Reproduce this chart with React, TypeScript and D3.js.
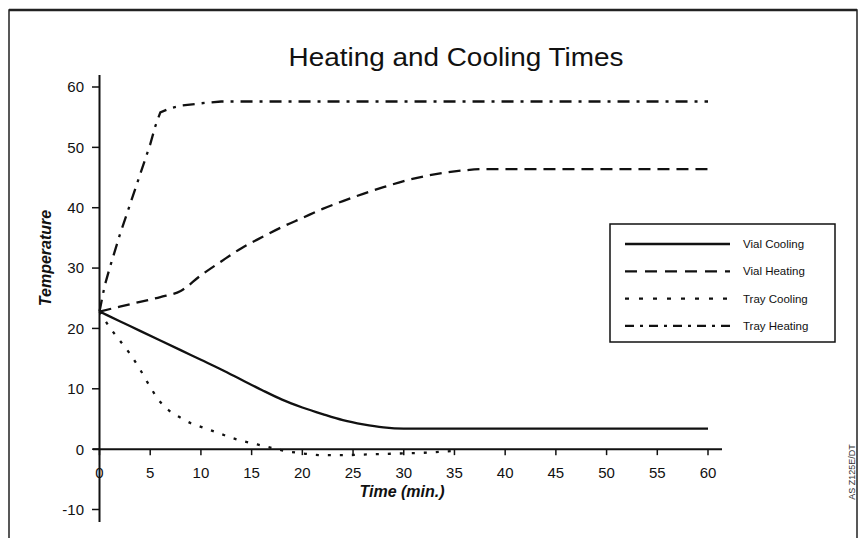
import React from "react";
import * as d3 from "d3";

// readings taken off the scanned chart
const vialCoolingTime = [0, 2, 4, 6, 8, 10, 12, 14, 16, 18, 20, 22, 24, 26, 28, 30, 35, 40, 45, 50, 55, 60];
const vialCoolingTemp = [22.8, 21.2, 19.6, 18, 16.4, 14.8, 13.2, 11.5, 9.8, 8.2, 6.9, 5.8, 4.8, 4.1, 3.6, 3.4, 3.4, 3.4, 3.4, 3.4, 3.4, 3.4];

const vialHeatingTime = [0, 2, 4, 6, 8, 10, 12, 14, 16, 18, 20, 22, 24, 26, 28, 30, 32, 34, 36, 38, 40, 45, 50, 55, 60];
const vialHeatingTemp = [22.8, 23.6, 24.4, 25.2, 26.2, 28.8, 31.1, 33.3, 35.1, 36.8, 38.3, 39.8, 41.1, 42.3, 43.4, 44.4, 45.2, 45.8, 46.2, 46.4, 46.4, 46.4, 46.4, 46.4, 46.4];

const trayCoolingTime = [0, 1, 2, 3, 4, 5, 6, 7, 8, 9, 10, 11, 12, 13, 14, 15, 16, 17, 18, 20, 22, 24, 26, 28, 30, 32, 34, 35.5];
const trayCoolingTemp = [22.8, 20.2, 18, 15.8, 13.2, 10.3, 7.8, 6.2, 5.2, 4.3, 3.7, 3.1, 2.5, 1.9, 1.4, 1, 0.6, 0.2, -0.2, -0.7, -1, -1, -0.9, -0.8, -0.7, -0.6, -0.4, -0.2];

const trayHeatingTime = [0, 0.5, 1, 2, 3, 4, 5, 5.5, 6, 7, 8, 10, 12, 20, 30, 40, 50, 60];
const trayHeatingTemp = [22.8, 27, 30, 35.5, 40.5, 45.5, 50.5, 53.5, 55.8, 56.5, 56.9, 57.3, 57.6, 57.6, 57.6, 57.6, 57.6, 57.6];

const seriesNames = ["Vial Cooling", "Vial Heating", "Tray Cooling", "Tray Heating"];
const xTicks = [0, 5, 10, 15, 20, 25, 30, 35, 40, 45, 50, 55, 60];
const yTicks = [-10, 0, 10, 20, 30, 40, 50, 60];

const font = "'Liberation Sans', Arial, Helvetica, sans-serif";

export default function App() {
  const x = d3.scaleLinear().domain([0, 60]).range([99.5, 708]);
  const y = d3.scaleLinear().domain([-10, 60]).range([509.5, 87]);

  const smooth = d3
    .line<[number, number]>()
    .x((d) => x(d[0]))
    .y((d) => y(d[1]))
    .curve(d3.curveMonotoneX);
  const straight = d3
    .line<[number, number]>()
    .x((d) => x(d[0]))
    .y((d) => y(d[1]));

  const pairs = (t: number[], v: number[]) => t.map((d, i) => [d, v[i]] as [number, number]);

  const series = [
    { name: seriesNames[0], d: smooth(pairs(vialCoolingTime, vialCoolingTemp)), dash: "none", legendDash: "none" },
    { name: seriesNames[1], d: smooth(pairs(vialHeatingTime, vialHeatingTemp)), dash: "12 7", legendDash: "12 8" },
    { name: seriesNames[2], d: smooth(pairs(trayCoolingTime, trayCoolingTemp)), dash: "3 9", legendDash: "4 10" },
    { name: seriesNames[3], d: straight(pairs(trayHeatingTime, trayHeatingTemp)), dash: "12 7 3 7", legendDash: "9 6 3 6" },
  ];

  const y0 = y(0);

  return (
    <div style={{ position: "absolute", left: 0, top: 0 }}>
      <svg width={864} height={538} style={{ display: "block", background: "#fff" }}>
        {/* page frame */}
        <path d="M9,538 V10 H857 V538" fill="none" stroke="#222" strokeWidth={1.5} />
        <line x1={9} x2={857} y1={10} y2={10} stroke="#222" strokeWidth={2.5} />

        <text
          x={456}
          y={66}
          textAnchor="middle"
          fontFamily={font}
          fontSize={25}
          textLength={335}
          lengthAdjust="spacingAndGlyphs"
          fill="#111"
        >
          Heating and Cooling Times
        </text>

        {/* y axis */}
        <line x1={99.5} x2={99.5} y1={75} y2={522} stroke="#111" strokeWidth={2} />
        {yTicks.map((t) => (
          <g key={t}>
            <line x1={92} x2={99.5} y1={y(t)} y2={y(t)} stroke="#111" strokeWidth={1.5} />
            <text
              x={84}
              y={y(t)}
              dy="0.36em"
              textAnchor="end"
              fontFamily={font}
              fontSize={15}
              fill="#111"
            >
              {t}
            </text>
          </g>
        ))}

        {/* x axis */}
        <line x1={93} x2={722} y1={y0} y2={y0} stroke="#111" strokeWidth={2} />
        {xTicks.map((t) => (
          <g key={t}>
            <line x1={x(t)} x2={x(t)} y1={y0} y2={y0 + 6} stroke="#111" strokeWidth={1.5} />
            <text
              x={x(t)}
              y={478}
              textAnchor="middle"
              fontFamily={font}
              fontSize={15}
              fill="#111"
            >
              {t}
            </text>
          </g>
        ))}

        <text
          x={402}
          y={497}
          textAnchor="middle"
          fontFamily={font}
          fontSize={16}
          fontWeight="bold"
          fontStyle="italic"
          fill="#111"
        >
          Time (min.)
        </text>
        <text
          transform="translate(51,258) rotate(-90)"
          textAnchor="middle"
          fontFamily={font}
          fontSize={16}
          fontWeight="bold"
          fontStyle="italic"
          fill="#111"
        >
          Temperature
        </text>

        {/* curves */}
        {series.map((s) => (
          <path
            key={s.name}
            d={s.d || ""}
            fill="none"
            stroke="#111"
            strokeWidth={2.3}
            strokeDasharray={s.dash}
          />
        ))}

        {/* legend */}
        <rect x={610} y={224} width={225} height={118} fill="#fff" stroke="#111" strokeWidth={1.5} />
        {series.map((s, i) => {
          const ly = 244 + i * 27.3;
          return (
            <g key={s.name}>
              <line x1={625} x2={730} y1={ly} y2={ly} stroke="#111" strokeWidth={2.3} strokeDasharray={s.legendDash} />
              <text x={743} y={ly} dy="0.35em" fontFamily={font} fontSize={11.5} fill="#111">
                {s.name}
              </text>
            </g>
          );
        })}

        <text
          transform="translate(855,472) rotate(-90)"
          textAnchor="middle"
          fontFamily={font}
          fontSize={9}
          fill="#333"
        >
          AS Z125E/DT
        </text>
      </svg>
    </div>
  );
}
